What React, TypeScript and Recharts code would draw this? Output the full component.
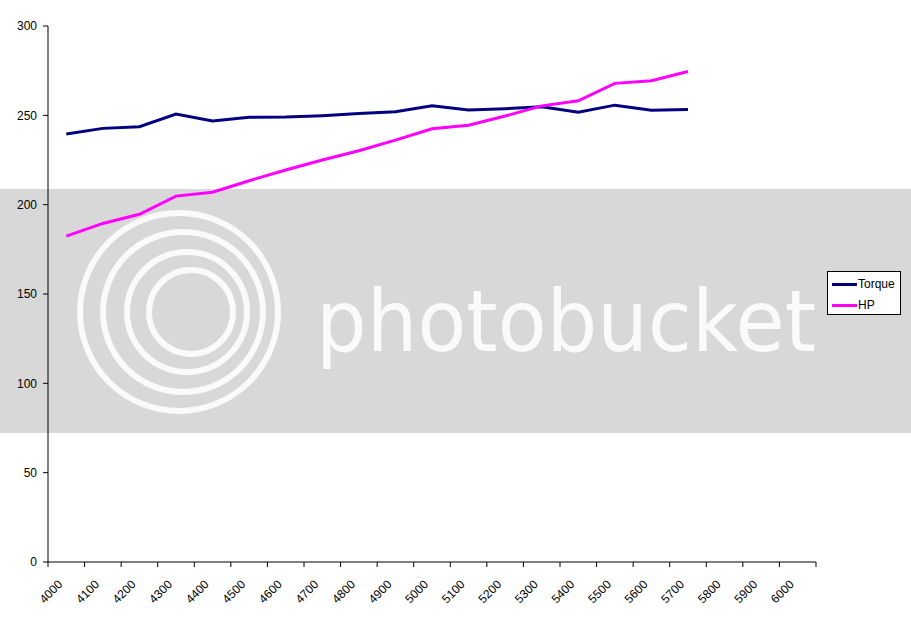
import { Legend, Line, LineChart, XAxis, YAxis } from "recharts";

const rpm = [
  "4000", "4100", "4200", "4300", "4400", "4500", "4600", "4700", "4800", "4900", "5000",
  "5100", "5200", "5300", "5400", "5500", "5600", "5700", "5800", "5900", "6000",
];
const torque = [239.5, 242.7, 243.6, 250.7, 246.8, 248.9, 249, 249.8, 251, 252, 255.3, 253, 253.7, 254.8, 251.8, 255.7, 252.9, 253.3];
const hp = [182.4, 189.5, 194.6, 204.8, 207, 213.4, 219.4, 225, 230.2, 236.1, 242.5, 244.5, 249.6, 255.3, 258.1, 267.9, 269.4, 274.5];
const yTicks = [0, 50, 100, 150, 200, 250, 300];

const series = [
  { key: "torque", name: "Torque", color: "#000080" },
  { key: "hp", name: "HP", color: "#ff00ff" },
];

const data = rpm.map((r, i) => ({ rpm: r, torque: torque[i], hp: hp[i] }));

const W = 911;
const H = 623;
const margin = { top: 26, right: 95, bottom: 31, left: 0 };
const yAxisWidth = 48;
const xAxisHeight = 30;
const plotW = W - margin.right - yAxisWidth;
const band = plotW / rpm.length;
const font = "'Liberation Sans', Arial, sans-serif";

function RpmTick(props: any) {
  const { x, y, payload, index } = props;
  const left = x - band / 2;
  return (
    <g>
      <line x1={left} y1={y} x2={left} y2={y + 5} stroke="#000" />
      {index === rpm.length - 1 && (
        <line x1={x + band / 2} y1={y} x2={x + band / 2} y2={y + 5} stroke="#000" />
      )}
      <text
        x={0}
        y={0}
        transform={`translate(${x - 3},${y + 23}) rotate(-45)`}
        textAnchor="end"
        fontSize={12}
        fontFamily={font}
        fill="#000"
      >
        {payload.value}
      </text>
    </g>
  );
}

function LegendBox() {
  return (
    <div
      style={{
        width: 74,
        height: 44,
        border: "1px solid #000",
        background: "#fff",
        fontFamily: font,
        fontSize: 12,
        lineHeight: "14px",
        boxSizing: "border-box",
        paddingTop: 5,
      }}
    >
      {series.map((s) => (
        <div key={s.key} style={{ display: "flex", alignItems: "center", height: 14, marginBottom: 7 }}>
          <span style={{ display: "inline-block", width: 25, height: 3, background: s.color, marginLeft: 4, marginRight: 1 }} />
          <span>{s.name}</span>
        </div>
      ))}
    </div>
  );
}

function Watermark() {
  const rings = [
    { cx: 179, r: 99 },
    { cx: 183, r: 80 },
    { cx: 187, r: 60 },
    { cx: 191, r: 42 },
  ];
  return (
    <svg width={W} height={H} style={{ position: "absolute", left: 0, top: 0 }}>
      <rect x={0} y={189} width={W} height={244} fill="#d8d8d8" />
      {rings.map((c, i) => (
        <circle key={i} cx={c.cx} cy={312} r={c.r} fill="none" stroke="#fafafa" strokeWidth={6} />
      ))}
      <text
        x={316}
        y={351}
        textLength={500}
        lengthAdjust="spacingAndGlyphs"
        fontSize={86}
        fontFamily="'DejaVu Sans', sans-serif"
        fill="#fafafa"
      >
        photobucket
      </text>
    </svg>
  );
}

export default function App() {
  return (
    <div style={{ position: "absolute", left: 0, top: 0, width: W, height: H, background: "#fff" }}>
      <Watermark />
      <div style={{ position: "absolute", left: 0, top: 0 }}>
        <LineChart width={W} height={H} data={data} margin={margin}>
          <XAxis
            dataKey="rpm"
            scale="band"
            interval={0}
            height={xAxisHeight}
            tickLine={false}
            tickSize={0}
            tickMargin={0}
            stroke="#000"
            tick={<RpmTick />}
          />
          <YAxis
            width={yAxisWidth}
            domain={[0, 300]}
            ticks={yTicks}
            tickSize={5}
            tickMargin={6}
            stroke="#000"
            tick={{ fill: "#000", fontSize: 12, fontFamily: font }}
          />
          <Legend
            layout="vertical"
            align="center"
            verticalAlign="middle"
            content={<LegendBox />}
            wrapperStyle={{ left: 827, top: 271, width: 74 }}
          />
          {series.map((s) => (
            <Line
              key={s.key}
              type="linear"
              dataKey={s.key}
              name={s.name}
              stroke={s.color}
              strokeWidth={3}
              dot={false}
              isAnimationActive={false}
            />
          ))}
        </LineChart>
      </div>
    </div>
  );
}
